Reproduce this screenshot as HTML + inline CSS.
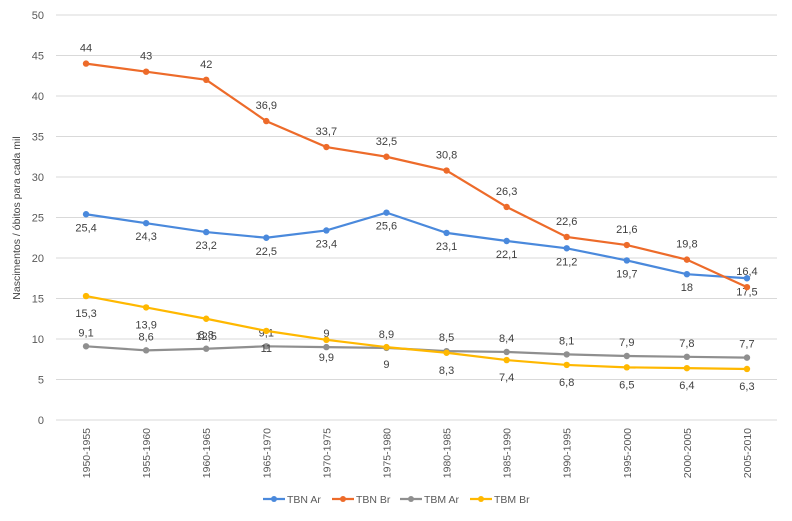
<!DOCTYPE html>
<html><head><meta charset="utf-8"><style>
body{margin:0;background:#fff;font-family:"Liberation Sans",sans-serif}
svg text{font-family:"Liberation Sans",sans-serif}
</style></head><body>
<svg id="chart" width="792" height="516" xmlns="http://www.w3.org/2000/svg">
<g id="grid"></g>
<g id="yt"></g>
<g id="xt"></g>
<g id="series"></g>
<text x="20" y="218" transform="rotate(-90 20 218)" text-anchor="middle" font-size="10.5" fill="#444">Nascimentos / óbitos para cada mil</text>
<g id="legend"></g>
</svg>
<script>
const categories=["1950-1955","1955-1960","1960-1965","1965-1970","1970-1975","1975-1980","1980-1985","1985-1990","1990-1995","1995-2000","2000-2005","2005-2010"];
const yTicks=[0,5,10,15,20,25,30,35,40,45,50];
const tbnAr=[25.4,24.3,23.2,22.5,23.4,25.6,23.1,22.1,21.2,19.7,18,17.5];
const tbnBr=[44,43,42,36.9,33.7,32.5,30.8,26.3,22.6,21.6,19.8,16.4];
const tbmAr=[9.1,8.6,8.8,9.1,9,8.9,8.5,8.4,8.1,7.9,7.8,7.7];
const tbmBr=[15.3,13.9,12.5,11,9.9,9,8.3,7.4,6.8,6.5,6.4,6.3];
const seriesNames=["TBN Ar","TBN Br","TBM Ar","TBM Br"];
const NS="http://www.w3.org/2000/svg";
const L=56,R=777,T=15,B=420;
const x=i=>L+(R-L)/categories.length*(i+0.5);
const y=v=>B-(B-T)*v/50;
function mk(tag,attrs,parent){const e=document.createElementNS(NS,tag);for(const k in attrs)e.setAttribute(k,attrs[k]);parent.appendChild(e);return e;}
const grid=document.getElementById('grid'),yt=document.getElementById('yt'),xt=document.getElementById('xt'),sg=document.getElementById('series'),lg=document.getElementById('legend');
yTicks.forEach(t=>{
 const l=mk('line',{x1:L,x2:R,y1:y(t),y2:y(t),stroke:'#d9d9d9','stroke-width':1},grid);
 
 
 const tx=mk('text',{x:44,y:y(t)+4,'text-anchor':'end','font-size':11,fill:'#595959'},yt);
 tx.textContent=t;
 
 
});
categories.forEach((c,i)=>{
 const tx=mk('text',{x:0,y:0,'text-anchor':'end','font-size':10.5,fill:'#595959',transform:`translate(${x(i)+4},428) rotate(-90)`},xt);
 tx.textContent=c;
 
 
});
const defs=[[tbnAr,'#4a89dc',17],[tbnBr,'#ed6b2a',-12],[tbmAr,'#8f8f8f',-10],[tbmBr,'#ffb800',21]];
defs.forEach(([d,col,off],s)=>{
 const g=mk('g',{},sg);
 
 
 const p=mk('polyline',{points:d.map((v,i)=>x(i)+','+y(v)).join(' '),fill:'none',stroke:col,'stroke-width':2.2},g);
 
 
 d.forEach((v,i)=>{
  const c=mk('circle',{cx:x(i),cy:y(v),r:3.2,fill:col},g);
  
  
  const t=mk('text',{x:x(i),y:y(v)+off,'text-anchor':'middle','font-size':11,fill:'#404040'},g);
  t.textContent=String(v).replace('.',',');
  
  
 });
});
const lx=[263,332,400,470];
seriesNames.forEach((n,s)=>{
 const g=mk('g',{},lg);
 
 
 const col=defs[s][1];
 mk('line',{x1:lx[s],x2:lx[s]+22,y1:499,y2:499,stroke:col,'stroke-width':2.2},g);
 mk('circle',{cx:lx[s]+11,cy:499,r:3,fill:col},g);
 const t=mk('text',{x:lx[s]+24,y:503,'font-size':10.5,fill:'#595959'},g);
 t.textContent=n;
});
</script>
</body></html>
